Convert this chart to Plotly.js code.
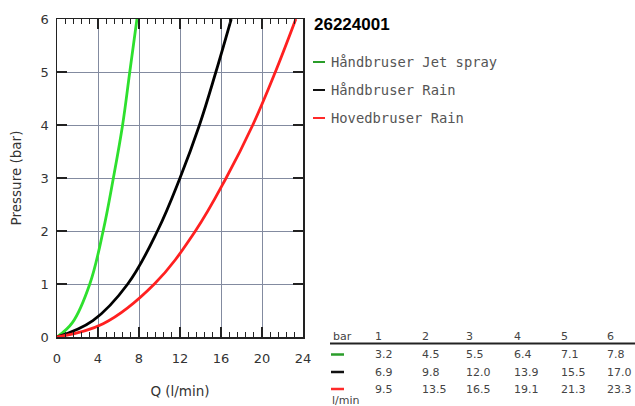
<!DOCTYPE html>
<html>
<head>
<meta charset="utf-8">
<script src="https://cdn.plot.ly/plotly-3.0.1.min.js"></script>
<style>html,body{margin:0;padding:0;background:#fff;}#chart{width:635px;height:406px;}</style>
</head>
<body>
<div id="chart"></div>
<script>
// ---- data ----
const seriesNames = ["Håndbruser Jet spray", "Håndbruser Rain", "Hovedbruser Rain"];
const tablePressure = [1, 2, 3, 4, 5, 6];
const jetQTable  = [3.2, 4.5, 5.5, 6.4, 7.1, 7.8];
const rainQTable = [6.9, 9.8, 12.0, 13.9, 15.5, 17.0];
const hovedQTable = [9.5, 13.5, 16.5, 19.1, 21.3, 23.3];

const jetQ  = [0, 1.5, 3.2, 4.5, 5.5, 6.4, 7.1, 7.8];
const jetP  = [0, 0.27, 1, 2, 3, 4, 5, 6];
const rainQ = [0, 3.5, 6.9, 9.8, 12.0, 13.9, 15.5, 17.0];
const rainP = [0, 0.31, 1, 2, 3, 4, 5, 6];
const hovedQ = [0, 4.5, 9.5, 13.5, 16.5, 19.1, 21.3, 23.3];
const hovedP = [0, 0.25, 1, 2, 3, 4, 5, 6];

const chartTitle = "26224001";
const xTickVals = [0, 4, 8, 12, 16, 20, 24];
const yTickVals = [0, 1, 2, 3, 4, 5, 6];

// ---- styles ----
const curveColors = ["#2ee02e", "#000000", "#ff2020"];
const keyColors = ["#2a9d2a", "#111111", "#ff2a2a"];
const M = {l: 57, r: 332, t: 19, b: 69};
const PW = 635 - M.l - M.r, PH = 406 - M.t - M.b;
const px = x => (x - M.l) / PW;
const py = y => (406 - M.b - y) / PH;

const traces = [[jetQ, jetP], [rainQ, rainP], [hovedQ, hovedP]].map((d, i) => ({
  x: d[0], y: d[1], type: "scatter", mode: "lines",
  line: {color: curveColors[i], width: 2.8, shape: "spline", smoothing: 1.1},
  name: seriesNames[i], showlegend: false, hoverinfo: "skip"
}));

const annotations = [];
const shapes = [];

// title
annotations.push({xref: "paper", yref: "paper", x: px(312), y: py(24), xanchor: "left", yanchor: "middle",
  text: "<b>" + chartTitle + "</b>", showarrow: false,
  font: {family: "Liberation Sans, Arial, sans-serif", size: 17, color: "#000"}});

// legend
const legY = [62, 90, 118];
seriesNames.forEach((n, i) => {
  shapes.push({type: "line", xref: "paper", yref: "paper", x0: px(313), x1: px(325), y0: py(legY[i]), y1: py(legY[i]),
    line: {color: keyColors[i], width: 2}});
  annotations.push({xref: "paper", yref: "paper", x: px(329), y: py(legY[i]), xanchor: "left", yanchor: "middle",
    text: n, showarrow: false, font: {family: "DejaVu Sans Mono, monospace", size: 13.8, color: "#555"}});
});

// table
const colX = [373, 420, 464, 512, 559, 605];
const tFont = {family: "DejaVu Sans, sans-serif", size: 11, color: "#444"};
annotations.push({xref: "paper", yref: "paper", x: px(331), y: py(336.5), xanchor: "left", yanchor: "middle",
  text: "bar", showarrow: false, font: tFont});
tablePressure.forEach((p, j) => {
  annotations.push({xref: "paper", yref: "paper", x: px(colX[j]), y: py(336.5), xanchor: "left", yanchor: "middle",
    text: String(p), showarrow: false, font: tFont});
});
shapes.push({type: "line", xref: "paper", yref: "paper", x0: px(330), x1: px(635), y0: py(343.5), y1: py(343.5),
  line: {color: "#222", width: 2}});
const rowY = [354.5, 372, 389];
[jetQTable, rainQTable, hovedQTable].forEach((arr, i) => {
  shapes.push({type: "line", xref: "paper", yref: "paper", x0: px(331), x1: px(344), y0: py(rowY[i]), y1: py(rowY[i]),
    line: {color: keyColors[i], width: 2.5}});
  arr.forEach((v, j) => {
    annotations.push({xref: "paper", yref: "paper", x: px(colX[j]), y: py(rowY[i]), xanchor: "left", yanchor: "middle",
      text: v.toFixed(1), showarrow: false, font: tFont});
  });
});
annotations.push({xref: "paper", yref: "paper", x: px(330), y: py(400), xanchor: "left", yanchor: "middle",
  text: "l/min", showarrow: false, font: tFont});

const axisCommon = {
  showline: true, linecolor: "#222", linewidth: 1.5, mirror: "ticks",
  ticks: "inside", ticklen: 10, tickcolor: "#222", tickwidth: 1.3,
  showgrid: true, gridcolor: "#838ba0", gridwidth: 1, zeroline: false,
  tickfont: {family: "DejaVu Sans, sans-serif", size: 13, color: "#333"},
  fixedrange: true
};

const layout = {
  width: 635, height: 406,
  margin: M,
  paper_bgcolor: "#fff", plot_bgcolor: "#fff",
  showlegend: false,
  xaxis: Object.assign({}, axisCommon, {
    range: [0, 24], tickvals: xTickVals, ticktext: xTickVals.map(String),
    ticklabelstandoff: 9,
    minor: {dtick: 0.8, tick0: 0, ticks: "inside", ticklen: 5, tickcolor: "#222", tickwidth: 1, showgrid: false},
    title: {text: "Q (l/min)", font: {family: "DejaVu Sans, sans-serif", size: 13.5, color: "#333"}, standoff: 21}
  }),
  yaxis: Object.assign({}, axisCommon, {
    range: [0, 6], tickvals: yTickVals, ticktext: yTickVals.map(String),
    ticklabelstandoff: 4,
    title: {text: "Pressure (bar)", font: {family: "DejaVu Sans, sans-serif", size: 13.5, color: "#333"}, standoff: 16}
  }),
  annotations: annotations,
  shapes: shapes
};

Plotly.newPlot("chart", traces, layout, {displayModeBar: false, staticPlot: true});
</script>
</body>
</html>
